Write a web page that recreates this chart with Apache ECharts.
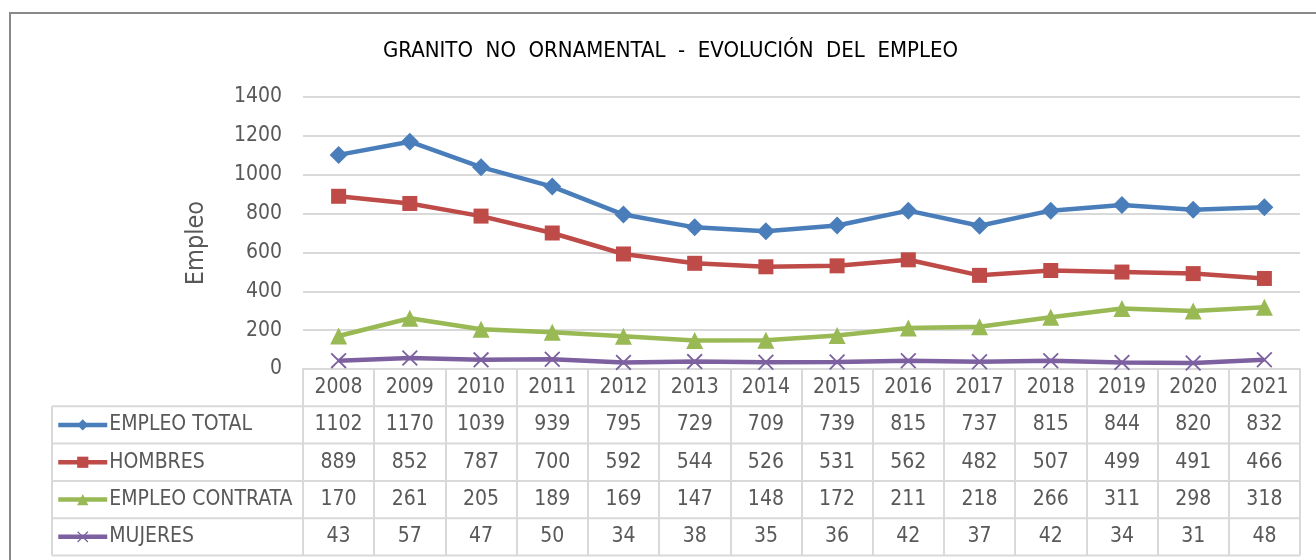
<!DOCTYPE html>
<html>
<head>
<meta charset="utf-8">
<script src="https://cdn.jsdelivr.net/npm/echarts@6/dist/echarts.min.js"></script>
<style>
  html, body { margin: 0; padding: 0; background: #fff; }
  #chart { width: 1316px; height: 560px; }
</style>
</head>
<body>
<div id="chart"></div>
<script>
const years = ["2008", "2009", "2010", "2011", "2012", "2013", "2014", "2015", "2016", "2017", "2018", "2019", "2020", "2021"];
const empleoTotal = [1102, 1170, 1039, 939, 795, 729, 709, 739, 815, 737, 815, 844, 820, 832];
const hombres = [889, 852, 787, 700, 592, 544, 526, 531, 562, 482, 507, 499, 491, 466];
const empleoContrata = [170, 261, 205, 189, 169, 147, 148, 172, 211, 218, 266, 311, 298, 318];
const mujeres = [43, 57, 47, 50, 34, 38, 35, 36, 42, 37, 42, 34, 31, 48];
const yTicks = [0, 200, 400, 600, 800, 1000, 1200, 1400];

const FONT = "'DejaVu Sans Condensed', sans-serif";
const FS = 21;
const TXT = "#595959";
const BORDER = "#d9d9d9";
const ROW_H = 37.3;
const X_SYMBOL = "path://M0,0.8L0.8,0L5,4.2L9.2,0L10,0.8L5.8,5L10,9.2L9.2,10L5,5.8L0.8,10L0,9.2L4.2,5Z";

const rows = [
  { name: "EMPLEO TOTAL", data: empleoTotal, color: "#4a7ebb", symbol: "diamond", size: 18 },
  { name: "HOMBRES", data: hombres, color: "#be4b48", symbol: "rect", size: 15 },
  { name: "EMPLEO CONTRATA", data: empleoContrata, color: "#98b954", symbol: "triangle", size: 17 },
  { name: "MUJERES", data: mujeres, color: "#7d60a0", symbol: X_SYMBOL, size: 16 }
];

const chart = echarts.init(document.getElementById("chart"));

chart.setOption({
  animation: false,
  backgroundColor: "#fff",
  textStyle: { fontFamily: FONT },
  title: {
    text: "GRANITO  NO  ORNAMENTAL  -  EVOLUCIÓN  DEL  EMPLEO",
    left: 378,
    top: 35,
    textStyle: { fontFamily: FONT, fontSize: 22, fontWeight: "normal", color: "#000" }
  },
  grid: { left: 303, right: 16, top: 97, bottom: 191 },
  xAxis: {
    type: "category",
    data: years,
    boundaryGap: true,
    axisLine: { show: true, lineStyle: { color: BORDER, width: 2 } },
    axisTick: { show: true, length: ROW_H * 5, lineStyle: { color: BORDER, width: 2 } },
    axisLabel: { color: TXT, fontSize: FS, fontFamily: FONT, margin: 8 }
  },
  yAxis: {
    type: "value",
    min: yTicks[0],
    max: yTicks[yTicks.length - 1],
    interval: 200,
    name: "Empleo",
    nameLocation: "middle",
    nameGap: 94,
    nameTextStyle: { color: TXT, fontSize: 25, fontFamily: FONT, padding: [0, 20, 0, 0] },
    axisLine: { show: false },
    axisTick: { show: false },
    axisLabel: { color: TXT, fontSize: FS, fontFamily: FONT, margin: 21, formatter: v => String(v) },
    splitLine: { lineStyle: { color: BORDER, width: 2 } }
  },
  series: rows.map(r => ({
    name: r.name,
    type: "line",
    data: r.data,
    symbol: r.symbol,
    symbolSize: r.size,
    showSymbol: true,
    lineStyle: { color: r.color, width: 4.5 },
    itemStyle: { color: r.color }
  }))
});

// data table under the plot, positioned from the axes
const px = i => chart.convertToPixel({ xAxisIndex: 0 }, i);
const colW = px(1) - px(0);
const xRight = px(years.length - 1) + colW / 2;
const y0 = chart.convertToPixel({ yAxisIndex: 0 }, 0);
const tableLeft = 52;

const graphic = [
  {
    type: "rect",
    shape: { x: 10, y: 13, width: 1400, height: 700 },
    style: { fill: null, stroke: "#898989", lineWidth: 2 },
    silent: true
  },
  {
    type: "line",
    shape: { x1: tableLeft, y1: y0 + ROW_H, x2: tableLeft, y2: y0 + ROW_H * 5 },
    style: { stroke: BORDER, lineWidth: 2 }
  }
];
for (let r = 1; r <= 5; r++) {
  graphic.push({
    type: "line",
    shape: { x1: tableLeft, y1: y0 + ROW_H * r, x2: xRight, y2: y0 + ROW_H * r },
    style: { stroke: BORDER, lineWidth: 2 }
  });
}
rows.forEach((row, ri) => {
  const cy = y0 + ROW_H * (ri + 1.5);
  row.data.forEach((v, i) => {
    graphic.push({
      type: "text",
      x: px(i),
      y: cy,
      style: {
        text: String(v),
        fill: TXT,
        font: FS + "px " + FONT,
        align: "center",
        verticalAlign: "middle"
      }
    });
  });
});

const legends = rows.map((row, ri) => ({
  data: [row.name],
  left: 56,
  top: y0 + ROW_H * (ri + 1.5) - 11,
  padding: 0,
  itemWidth: 49,
  itemHeight: 14,
  itemGap: 0,
  selectedMode: false,
  lineStyle: { width: 4.5 },
  textStyle: { color: TXT, fontSize: FS, fontFamily: FONT, lineHeight: 22, padding: [0, 0, 0, -3] }
}));

chart.setOption({ legend: legends, graphic: graphic });
</script>
</body>
</html>
